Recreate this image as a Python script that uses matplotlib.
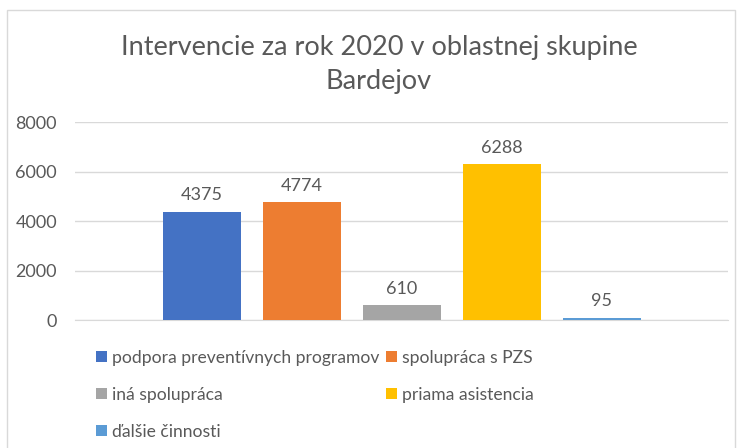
import matplotlib
matplotlib.use("Agg")
import matplotlib.pyplot as plt
from matplotlib.patches import Rectangle

plt.rcParams["font.family"] = ["Lato", "DejaVu Sans"]

TEXT = "#595959"
GRID = "#D9D9D9"

series = ["podpora preventívnych programov", "spolupráca s PZS", "iná spolupráca",
          "priama asistencia", "ďalšie činnosti"]
values = [4375, 4774, 610, 6288, 95]
colors = ["#4472C4", "#ED7D31", "#A5A5A5", "#FFC000", "#5B9BD5"]
yticks = [0, 2000, 4000, 6000, 8000]

fig = plt.figure(figsize=(7.38, 4.48), dpi=100)
ax = fig.add_axes([75 / 738, 1 - 320 / 448, 653 / 738, 198 / 448])

bars = []
for i, (name, v, c) in enumerate(zip(series, values, colors)):
    b = ax.bar(i, v, width=0.78, color=c, label=name, zorder=3)
    ax.bar_label(b, labels=[str(v)], padding=6, fontsize=13, color=TEXT)
    bars.append(b)

ax.set_xlim(-1.265, 5.265)
ax.set_ylim(0, 8000)
ax.set_yticks(yticks)
ax.set_xticks([])
ax.tick_params(axis="y", length=0, labelsize=13, labelcolor=TEXT, pad=13)
ax.grid(axis="y", color=GRID, linewidth=1, zorder=0)
for s in ["top", "right", "left"]:
    ax.spines[s].set_visible(False)
ax.spines["bottom"].set_color(GRID)

fig.text(379 / 738, 1 - 48 / 448, "Intervencie za rok 2020 v oblastnej skupine",
         ha="center", va="center", fontsize=19.5, color=TEXT)
fig.text(379 / 738, 1 - 81 / 448, "Bardejov",
         ha="center", va="center", fontsize=19.5, color=TEXT)

# Excel lays the legend out row by row; matplotlib fills columns first
order = [0, 2, 4, 1, 3]
handles = [bars[i] for i in order]
labels = [series[i] for i in order]
leg = fig.legend(handles, labels, ncol=2, loc="upper left",
                 bbox_to_anchor=(96 / 738, 1 - 350 / 448), frameon=False,
                 fontsize=12.6, handlelength=0.6, handleheight=0.6,
                 handletextpad=0.3, columnspacing=0.4, labelspacing=1.2,
                 borderaxespad=0, borderpad=0)
for t in leg.get_texts():
    t.set_color(TEXT)

fig.patches.append(Rectangle((7 / 738, -0.05), 728 / 738, 1.05 - 10 / 448,
                             transform=fig.transFigure, fill=False,
                             edgecolor=GRID, linewidth=1))

fig.savefig("out.png", dpi=100)
